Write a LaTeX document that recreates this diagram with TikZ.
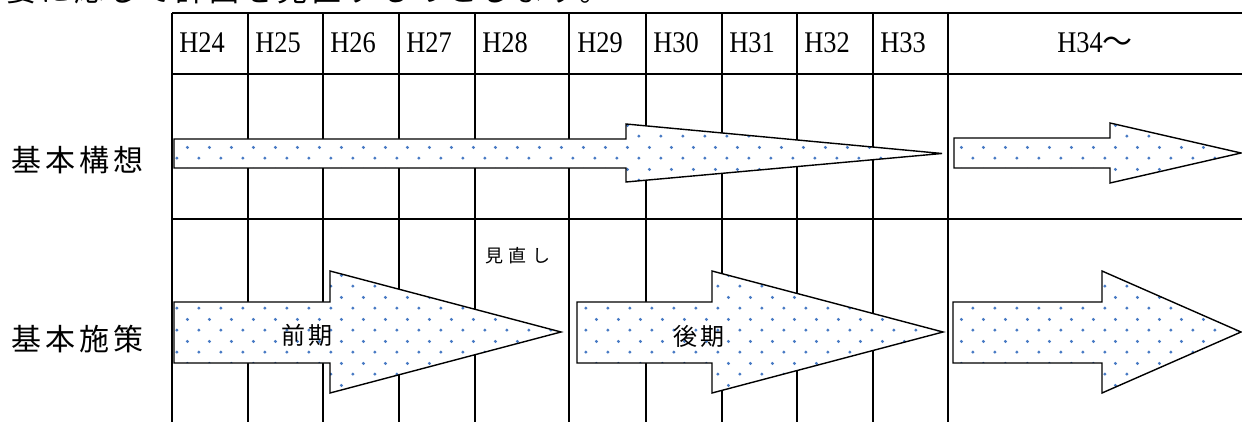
\documentclass[tikz,border=0pt]{standalone}
\usepackage{fontspec}
\setmainfont{Liberation Serif}
\newfontfamily\jpfont{Noto Sans CJK JP}
\newfontfamily\yearfont[FakeStretch=0.88]{Liberation Serif}
\usetikzlibrary{patterns.meta}
\definecolor{dotblue}{RGB}{72,122,196}
\tikzdeclarepattern{
    name=bluedots, type=colored,
    bottom left={(0pt,0pt)}, top right={(10.75pt,10.8pt)},
    tile size={(10.75pt,10.8pt)},
    code={
        \fill[dotblue] (2.5pt,2.5pt) circle (0.85pt);
        \fill[dotblue] (7.875pt,7.9pt) circle (0.85pt);
    }
}
\tikzset{%
    gridLine/.style = {line width=1.1pt},
    planArrow/.style = {
        draw, line width=0.7pt, line join=miter,
        preaction={fill=white}, pattern=bluedots
    },
    year/.style = {
        inner sep=0pt, anchor=base west,
        font=\yearfont\fontsize{15}{18}\selectfont
    },
    rowLabel/.style = {
        inner sep=0pt, anchor=west,
        font=\jpfont\fontsize{15}{18}\selectfont\addfontfeatures{LetterSpace=13}
    },
    termLabel/.style = {
        inner sep=0pt,
        font=\jpfont\fontsize{12}{14}\selectfont\addfontfeatures{LetterSpace=12}
    },
}
\begin{document}
\begin{tikzpicture}[x=0.5pt, y=-0.5pt]
    \useasboundingbox (0,0) rectangle (1242,422);
    % Text above the table
    \node (intro) [rowLabel, anchor=base west] at (6,1.5)
        {要に応じて計画を見直すものとします。};

    % Table lines
    \draw[gridLine] (172,13) -- (1242,13) (172,74) -- (1242,74)
        (172,219) -- (1242,219);
    \draw[gridLine] (172,13) -- (172,422) (248,13) -- (248,422)
        (323,13) -- (323,422) (399,13) -- (399,422)
        (475,13) -- (475,422) (569,13) -- (569,422)
        (646,13) -- (646,422) (722,13) -- (722,422)
        (797,13) -- (797,422) (873,13) -- (873,422)
        (948,13) -- (948,422);

    % Years
    \node (h24) [year] at (179,53) {H24};
    \node (h25) [year] at (255,53) {H25};
    \node (h26) [year] at (330,53) {H26};
    \node (h27) [year] at (406,53) {H27};
    \node (h28) [year] at (482,53) {H28};
    \node (h29) [year] at (577,53) {H29};
    \node (h30) [year] at (653,53) {H30};
    \node (h31) [year] at (729,53) {H31};
    \node (h32) [year] at (804,53) {H32};
    \node (h33) [year] at (880,53) {H33};
    \node (h34) [year, anchor=base] at (1095,53) {H34{\jpfont 〜}};

    % Row labels
    \node (kousou)  [rowLabel] at (11,160) {基本構想};
    \node (shisaku) [rowLabel] at (11,339) {基本施策};

    % Arrows
    \draw[planArrow] (174,139) -- (626,139) -- (626,124) -- (942,153.5)
        -- (626,182) -- (626,168) -- (174,168) -- cycle;
    \draw[planArrow] (954,138) -- (1110,138) -- (1110,123) -- (1241,153)
        -- (1110,183) -- (1110,168) -- (954,168) -- cycle;
    \draw[planArrow] (174,302) -- (330,302) -- (330,271) -- (561,332)
        -- (330,393) -- (330,363) -- (174,363) -- cycle;
    \draw[planArrow] (577,302) -- (712,302) -- (712,271) -- (943,332)
        -- (712,393) -- (712,363) -- (577,363) -- cycle;
    \draw[planArrow] (953,302) -- (1102,302) -- (1102,271) -- (1241,332)
        -- (1102,393) -- (1102,363) -- (953,363) -- cycle;

    % Labels on the arrows
    \node (zenki) [termLabel] at (307,335) {前期};
    \node (kouki) [termLabel] at (699,336) {後期};
    \node (minaoshi) [termLabel,
        font=\jpfont\fontsize{9}{11}\selectfont\addfontfeatures{LetterSpace=28}]
        at (518,256) {見直し};
\end{tikzpicture}
\end{document}
